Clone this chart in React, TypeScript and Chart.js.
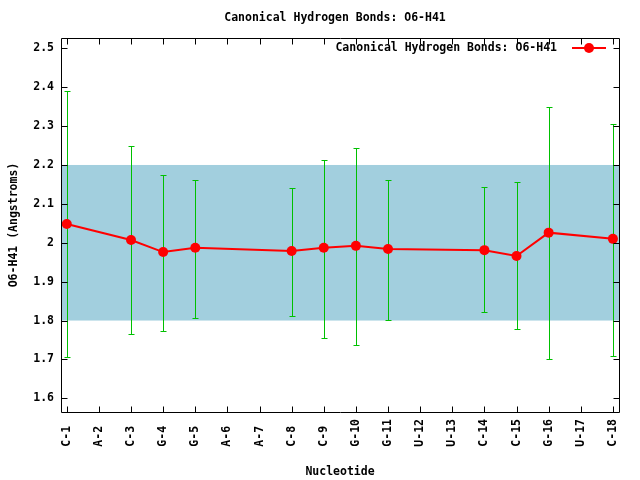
import React, { useEffect, useRef } from "react";
import { Chart, registerables } from "chart.js";

Chart.register(...registerables);

const nucleotides = ["C-1", "A-2", "C-3", "G-4", "G-5", "A-6", "A-7", "C-8", "C-9", "G-10", "G-11", "U-12", "U-13", "C-14", "C-15", "G-16", "U-17", "C-18"];
const meanValues: (number | null)[] = [2.048, null, 2.007, 1.976, 1.987, null, null, 1.979, 1.987, 1.992, 1.984, null, null, 1.981, 1.966, 2.026, null, 2.010];
const errLow: (number | null)[] = [1.706, null, 1.766, 1.773, 1.807, null, null, 1.812, 1.755, 1.737, 1.802, null, null, 1.821, 1.778, 1.700, null, 1.709];
const errHigh: (number | null)[] = [2.389, null, 2.249, 2.175, 2.162, null, null, 2.141, 2.213, 2.244, 2.162, null, null, 2.143, 2.156, 2.348, null, 2.306];
const bandLow = 1.8;
const bandHigh = 2.2;
const yMin = 1.5648;
const yMax = 2.5265;
const xMin = -0.18;
const xMax = 17.19;

const titleText = "Canonical Hydrogen Bonds: O6-H41";
const xTitle = "Nucleotide";
const yTitle = "O6-H41 (Angstroms)";

const FONT = "'DejaVu Sans Mono', monospace";
const RED = "#ff0000";
const GREEN = "#00c000";
const BAND = "#a2cfde";

const padLabel = (s: string) => s.padEnd(4, " ");

const decorPlugin = {
  id: "decor",
  beforeDatasetsDraw(chart: any) {
    const { ctx, chartArea, scales } = chart;
    const y = scales.y;
    const x = scales.x;
    ctx.save();
    // band
    const top = y.getPixelForValue(bandHigh);
    const bot = y.getPixelForValue(bandLow);
    ctx.fillStyle = BAND;
    ctx.fillRect(chartArea.left, top, chartArea.right - chartArea.left, bot - top);
    // error bars
    ctx.strokeStyle = GREEN;
    ctx.lineWidth = 1;
    for (let i = 0; i < nucleotides.length; i++) {
      const lo = errLow[i];
      const hi = errHigh[i];
      if (lo == null || hi == null) continue;
      const px = Math.round(x.getPixelForValue(i)) + 0.5;
      const py1 = Math.round(y.getPixelForValue(hi)) + 0.5;
      const py2 = Math.round(y.getPixelForValue(lo)) + 0.5;
      ctx.beginPath();
      ctx.moveTo(px, py1);
      ctx.lineTo(px, py2);
      ctx.moveTo(px - 3, py1);
      ctx.lineTo(px + 3, py1);
      ctx.moveTo(px - 3, py2);
      ctx.lineTo(px + 3, py2);
      ctx.stroke();
    }
    ctx.restore();
  },
  afterDraw(chart: any) {
    const { ctx, chartArea, scales } = chart;
    const { left, right, top, bottom } = chartArea;
    ctx.save();
    ctx.strokeStyle = "#000";
    ctx.lineWidth = 1;
    const L = Math.round(left) + 0.5;
    const R = Math.round(right) + 0.5;
    const T = Math.round(top) + 0.5;
    const B = Math.round(bottom) + 0.5;
    ctx.beginPath();
    ctx.rect(L, T, R - L, B - T);
    // ticks
    const tl = 6;
    scales.y.ticks.forEach((t: any) => {
      const py = Math.round(scales.y.getPixelForValue(t.value)) + 0.5;
      ctx.moveTo(L, py);
      ctx.lineTo(L + tl, py);
      ctx.moveTo(R, py);
      ctx.lineTo(R - tl, py);
    });
    scales.x.ticks.forEach((t: any) => {
      const px = Math.round(scales.x.getPixelForValue(t.value)) + 0.5;
      ctx.moveTo(px, B);
      ctx.lineTo(px, B - tl);
      ctx.moveTo(px, T);
      ctx.lineTo(px, T + tl);
    });
    ctx.stroke();

    ctx.fillStyle = "#000";
    ctx.font = `bold 11.5px ${FONT}`;
    ctx.textBaseline = "middle";
    ctx.textAlign = "center";
    ctx.fillText(titleText, 335, 18);
    ctx.fillText(xTitle, 340, 472);
    ctx.save();
    ctx.translate(14, 225);
    ctx.rotate(-Math.PI / 2);
    ctx.fillText(yTitle, 0, 0);
    ctx.restore();

    // legend
    ctx.textAlign = "right";
    ctx.fillText(titleText, 557, 48);
    ctx.strokeStyle = RED;
    ctx.lineWidth = 2;
    ctx.beginPath();
    ctx.moveTo(572, 48);
    ctx.lineTo(606, 48);
    ctx.stroke();
    ctx.fillStyle = RED;
    ctx.beginPath();
    ctx.arc(589, 48, 5, 0, Math.PI * 2);
    ctx.fill();
    ctx.restore();
  },
};

export default function App() {
  const ref = useRef<HTMLCanvasElement | null>(null);
  useEffect(() => {
    if (!ref.current) return;
    const chart = new Chart(ref.current, {
      type: "line",
      data: {
        datasets: [
          {
            label: titleText,
            data: nucleotides.map((_, i) => ({ x: i, y: meanValues[i] })) as any,
            borderColor: RED,
            backgroundColor: RED,
            borderWidth: 2,
            pointRadius: 5,
            pointBorderWidth: 0,
            pointBackgroundColor: RED,
            spanGaps: true,
            tension: 0,
          },
        ],
      },
      options: {
        animation: false,
        responsive: false,
        devicePixelRatio: 1,
        layout: { padding: { left: 0, right: 21, top: 38, bottom: 0 } },
        plugins: { legend: { display: false }, title: { display: false }, tooltip: { enabled: false } },
        scales: {
          x: {
            type: "linear",
            min: xMin,
            max: xMax,
            grid: { display: false, drawTicks: false },
            border: { display: false },
            afterFit: (s: any) => {
              s.height = 68;
            },
            ticks: {
              stepSize: 1,
              includeBounds: false,
              autoSkip: false,
              minRotation: 90,
              maxRotation: 90,
              padding: 7,
              color: "#000",
              font: { family: FONT, size: 11.5, weight: "bold" },
              callback: (v: any) => {
                const idx = Math.round(Number(v));
                return nucleotides[idx] !== undefined ? padLabel(nucleotides[idx]) : "";
              },
            },
          },
          y: {
            type: "linear",
            min: yMin,
            max: yMax,
            grid: { display: false, drawTicks: false },
            border: { display: false },
            afterFit: (s: any) => {
              s.width = 61;
            },
            ticks: {
              stepSize: 0.1,
              includeBounds: false,
              padding: 7,
              color: "#000",
              font: { family: FONT, size: 11.5, weight: "bold" },
              callback: (v: any) => String(Number(Number(v).toFixed(1))),
            },
          },
        },
      },
      plugins: [decorPlugin],
    });
    return () => chart.destroy();
  }, []);
  return (
    <div style={{ position: "fixed", left: 0, top: 0, width: 640, height: 480, background: "#fff" }}>
      <canvas ref={ref} width={640} height={480} style={{ width: 640, height: 480 }} />
    </div>
  );
}
